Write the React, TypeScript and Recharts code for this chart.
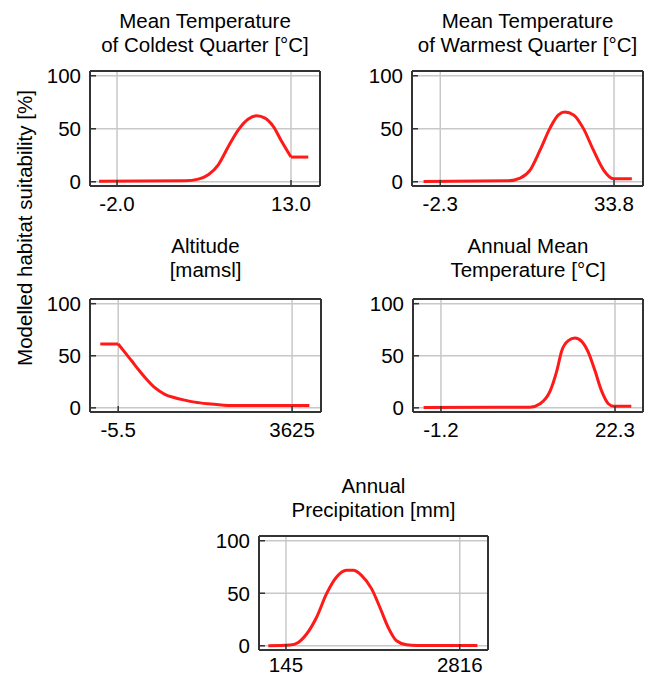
import { LineChart, Line, XAxis, YAxis, CartesianGrid } from "recharts";

// response curves (x in axis units, y in %)
// smooth part and flat part kept apart so the corners stay sharp
const coldX = [-3.55, 3.86, 5.01, 5.87, 6.73, 7.6, 8.46, 9.32, 10.04, 10.76, 11.47, 12.2, 13.0];
const coldY = [0.5, 0.9, 2.5, 6.6, 16, 33.3, 49, 59.2, 62.3, 60, 52.2, 38, 23.3];
const coldFlatX = [13.0, 14.49];
const coldFlatY = [23.3, 23.3];
const coldTicks = [-2.0, 13.0];
const coldLabels = ["-2.0", "13.0"];

const warmX = [-5.76, 11.9, 14.3, 16.4, 18.45, 20.5, 22.25, 23.6, 25.4, 27.4, 29.5, 31.6, 33.7, 37.5];
const warmY = [0.3, 1, 3.5, 11.3, 30, 50.6, 63, 65.7, 63, 50.6, 30, 11.3, 2.8, 2.8];
const warmTicks = [-2.3, 33.8];
const warmLabels = ["-2.3", "33.8"];

const altFlatX = [-380, -5.5];
const altFlatY = [61.3, 61.3];
const altX = [-5.5, 134, 274, 411, 586, 759, 967, 1175, 1383, 1591, 1868, 2147, 2355, 3986];
const altY = [61.3, 53.2, 45.2, 37.1, 27.5, 19.3, 13, 9.7, 7.4, 5.5, 3.9, 2.8, 2.2, 2.2];
const altTicks = [-5.5, 3625];
const altLabels = ["-5.5", "3625"];

const annX = [-3.54, 10.84, 12.19, 13.53, 14.44, 15.11, 16.0, 16.9, 17.8, 18.7, 19.6, 20.5, 21.4, 22.07, 24.5];
const annY = [0.3, 0.6, 3.9, 16, 35.5, 54.8, 64.5, 67, 63.8, 53.2, 35.5, 16, 3.9, 1.6, 1.6];
const annTicks = [-1.2, 22.3];
const annLabels = ["-1.2", "22.3"];

const precX = [-126, 206, 334, 462, 616, 769, 923, 1076, 1179, 1306, 1460, 1588, 1716, 1844, 1997, 2151, 3087];
const precY = [0, 0.7, 3.2, 11.2, 27.2, 49.6, 65.5, 71.9, 71.9, 67.1, 54.4, 36.7, 17.6, 4.8, 1, 0.3, 0.3];
const precTicks = [145, 2816];
const precLabels = ["145", "2816"];

const yTicks = [0, 50, 100];
const yDomain: [number, number] = [-4, 104.5];

const FONT = '"Liberation Sans", Arial, sans-serif';
const FS = 20.5;
const FRAME = "#333";
const RED = "#ff1a1a";

type Box = { l: number; t: number; w: number; h: number };

interface PanelProps {
  title: string[];
  titleTop: number;
  xs: number[];
  ys: number[];
  flatXs?: number[];
  flatYs?: number[];
  ticks: number[];
  labels: string[];
  domain: [number, number];
  box: Box;
  xLabelGap?: number;
}

const Y_W = 60;
const R_W = 10;
const T_H = 10;
const B_H = 40;

function Panel({
  title,
  titleTop,
  xs,
  ys,
  flatXs = [],
  flatYs = [],
  ticks,
  labels,
  domain,
  box,
  xLabelGap = 16,
}: PanelProps) {
  const data = [
    ...xs.map((x, i) => ({ x, y: ys[i] as number | null, f: null as number | null })),
    ...flatXs.map((x, i) => ({ x, y: null as number | null, f: flatYs[i] as number | null })),
  ];
  const fmt = (v: number) => labels[ticks.indexOf(v)] ?? String(v);
  const tickStyle = { fill: "#000", fontSize: FS, fontFamily: FONT };
  const lineStyle = { stroke: FRAME, strokeWidth: 1.5 };
  const axisStyle = { stroke: FRAME, strokeWidth: 2 };
  return (
    <>
      <div
        style={{
          position: "absolute",
          left: box.l + box.w / 2 - 150,
          width: 300,
          top: titleTop,
          textAlign: "center",
          fontFamily: FONT,
          fontSize: FS,
          lineHeight: "24px",
          color: "#000",
        }}
      >
        {title.map((t) => (
          <div key={t}>{t}</div>
        ))}
      </div>
      <div style={{ position: "absolute", left: box.l - Y_W, top: box.t - T_H }}>
        <LineChart
          width={box.w + Y_W + R_W}
          height={box.h + T_H + B_H}
          data={data}
          margin={{ top: 0, right: 0, bottom: 0, left: 0 }}
        >
          <CartesianGrid stroke="#c8c8c8" strokeWidth={1.5} />
          <XAxis
            dataKey="x"
            type="number"
            domain={domain}
            allowDataOverflow
            ticks={ticks}
            interval={0}
            tickFormatter={fmt}
            height={B_H}
            tickSize={-6}
            tickMargin={xLabelGap}
            tick={tickStyle}
            tickLine={lineStyle}
            axisLine={axisStyle}
          />
          <XAxis
            xAxisId="top"
            orientation="top"
            dataKey="x"
            type="number"
            domain={domain}
            allowDataOverflow
            ticks={ticks}
            interval={0}
            height={T_H}
            tickSize={-6}
            tick={false}
            tickLine={lineStyle}
            axisLine={axisStyle}
          />
          <YAxis
            type="number"
            domain={yDomain}
            allowDataOverflow
            ticks={yTicks}
            interval={0}
            width={Y_W}
            tickSize={-6}
            tickMargin={15}
            tick={tickStyle}
            tickLine={lineStyle}
            axisLine={axisStyle}
          />
          <YAxis
            yAxisId="right"
            orientation="right"
            type="number"
            domain={yDomain}
            allowDataOverflow
            ticks={yTicks}
            interval={0}
            width={R_W}
            tickSize={-6}
            tick={false}
            tickLine={lineStyle}
            axisLine={axisStyle}
          />
          <Line
            type="monotone"
            dataKey="y"
            stroke={RED}
            strokeWidth={3}
            dot={false}
            activeDot={false}
            isAnimationActive={false}
          />
          {flatXs.length > 0 && (
            <Line
              type="linear"
              dataKey="f"
              stroke={RED}
              strokeWidth={3}
              dot={false}
              activeDot={false}
              isAnimationActive={false}
            />
          )}
        </LineChart>
      </div>
    </>
  );
}

export default function App() {
  return (
    <div
      style={{
        position: "absolute",
        left: 0,
        top: 0,
        width: 647,
        height: 676,
        background: "#fff",
        overflow: "hidden",
      }}
    >
      <div
        style={{
          position: "absolute",
          left: 25,
          top: 228,
          transform: "translate(-50%, -50%) rotate(-90deg)",
          whiteSpace: "nowrap",
          fontFamily: FONT,
          fontSize: FS,
          color: "#000",
        }}
      >
        Modelled habitat suitability [%]
      </div>
      <Panel
        title={["Mean Temperature", "of Coldest Quarter [°C]"]}
        titleTop={9}
        xs={coldX}
        ys={coldY}
        flatXs={coldFlatX}
        flatYs={coldFlatY}
        ticks={coldTicks}
        labels={coldLabels}
        domain={[-4.33, 15.5]}
        box={{ l: 90, t: 71, w: 230, h: 115 }}
      />
      <Panel
        title={["Mean Temperature", "of Warmest Quarter [°C]"]}
        titleTop={9}
        xs={warmX}
        ys={warmY}
        ticks={warmTicks}
        labels={warmLabels}
        domain={[-8.17, 39.82]}
        box={{ l: 412, t: 71, w: 231, h: 115 }}
      />
      <Panel
        title={["Altitude", "[mamsl]"]}
        titleTop={234}
        xs={altX}
        ys={altY}
        flatXs={altFlatX}
        flatYs={altFlatY}
        ticks={altTicks}
        labels={altLabels}
        domain={[-594.6, 4228.7]}
        box={{ l: 90, t: 299, w: 231, h: 113 }}
      />
      <Panel
        title={["Annual Mean", "Temperature [°C]"]}
        titleTop={234}
        xs={annX}
        ys={annY}
        ticks={annTicks}
        labels={annLabels}
        domain={[-4.975, 26.08]}
        box={{ l: 413, t: 299, w: 230, h: 113 }}
      />
      <Panel
        title={["Annual", "Precipitation [mm]"]}
        titleTop={474}
        xs={precX}
        ys={precY}
        ticks={precTicks}
        labels={precLabels}
        domain={[-269.5, 3250.5]}
        box={{ l: 259, t: 536, w: 229, h: 114 }}
        xLabelGap={13}
      />
    </div>
  );
}
